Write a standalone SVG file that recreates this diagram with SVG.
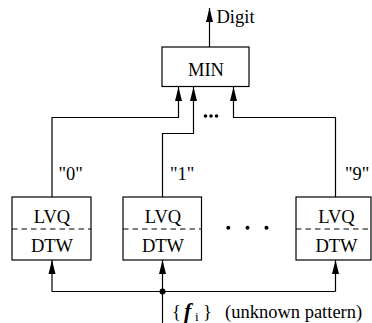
<svg xmlns="http://www.w3.org/2000/svg" width="372" height="323" viewBox="0 0 372 323">
<style>
.box{fill:#fff;stroke:#000;stroke-width:1.2}
.dash{stroke:#000;stroke-width:1.2;stroke-dasharray:5.5 4;fill:none}
.t{font-family:'Liberation Serif','Times New Roman',Tinos,'DejaVu Serif',serif;font-size:18.5px;fill:#000}
.c{text-anchor:middle}
.ln{fill:none;stroke:#000;stroke-width:1.2}
.ar{marker-end:url(#ah)}
</style>
<defs>
<marker id="ah" markerUnits="userSpaceOnUse" markerWidth="14" markerHeight="8" refX="14" refY="4" orient="auto">
<path d="M0,0.5 L14,4 L0,7.5 z" fill="#000"/>
</marker>
</defs>
<g id="connectors">
<path class="ln ar" d="M209.5,47 V8"/>
<path class="ln ar" d="M52,197 V117.5 H178.5 V87"/>
<path class="ln ar" d="M162.5,197 V133.5 H193.5 V87"/>
<path class="ln ar" d="M335.5,197 V117.5 H233.5 V87"/>
<path class="ln" d="M52,291.5 H335.5"/>
<path class="ln ar" d="M52,291.5 V260"/>
<path class="ln ar" d="M162.5,323 V260"/>
<path class="ln ar" d="M335.5,291.5 V260"/>
<circle cx="162.5" cy="291.5" r="3" fill="#000"/>
<text class="t" x="216.5" y="22.5">Digit</text>
<text class="t" x="58.5" y="180">"0"</text>
<text class="t" x="170" y="180">"1"</text>
<text class="t" x="345" y="180">"9"</text>
</g>
<g id="min">
<rect class="box" x="162" y="47" width="87" height="39.5"/>
<text class="t c" x="206" y="76">MIN</text>
</g>
<g id="mindots">
<circle cx="205.5" cy="116" r="1.8"/>
<circle cx="211" cy="116" r="1.8"/>
<circle cx="216.5" cy="116" r="1.8"/>
</g>
<g id="lvq0">
<rect class="box" x="12" y="197" width="79" height="63"/>
<line class="dash" x1="12" y1="229" x2="91" y2="229"/>
<text class="t c" x="52" y="223">LVQ</text>
<text class="t c" x="52" y="252">DTW</text>
</g>
<g id="lvq1">
<rect class="box" x="123" y="197" width="78.5" height="63"/>
<line class="dash" x1="123" y1="229" x2="201.5" y2="229"/>
<text class="t c" x="163" y="223">LVQ</text>
<text class="t c" x="163" y="252">DTW</text>
</g>
<g id="lvq9">
<rect class="box" x="296" y="197" width="75" height="63"/>
<line class="dash" x1="296" y1="229" x2="371" y2="229"/>
<text class="t c" x="336.5" y="223">LVQ</text>
<text class="t c" x="336.5" y="252">DTW</text>
</g>
<g id="dots">
<circle cx="228.3" cy="227.7" r="2"/>
<circle cx="247.5" cy="227.7" r="2"/>
<circle cx="266.5" cy="227.7" r="2"/>
</g>
<g id="input">
<text class="t" x="172" y="317.5">{<tspan x="184" font-style="italic" font-weight="bold" font-size="22">f</tspan><tspan x="195" y="321" font-size="13">i</tspan><tspan x="203" y="317.5">}</tspan></text>
<text class="t" x="225" y="317.5">(unknown pattern)</text>
</g>
</svg>
